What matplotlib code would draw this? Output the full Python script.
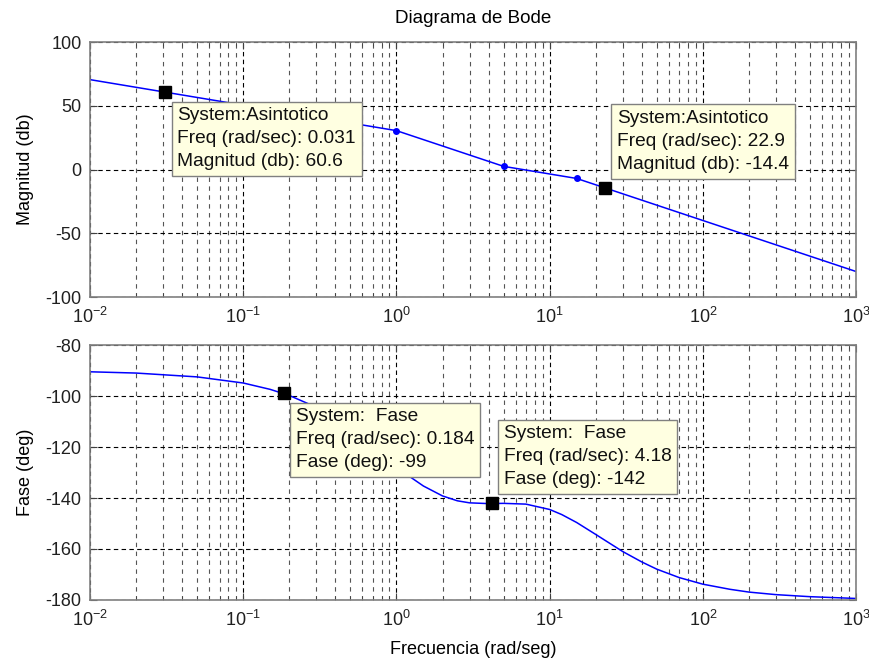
import numpy as np
import matplotlib
matplotlib.use("Agg")
from matplotlib import pyplot as plt
from matplotlib.ticker import LogLocator, NullFormatter

plt.rcParams['font.family'] = ['Liberation Sans', 'DejaVu Sans']
plt.rcParams['mathtext.fontset'] = 'custom'
plt.rcParams['mathtext.rm'] = 'Liberation Sans'
plt.rcParams['mathtext.default'] = 'regular'

# Magnitud asintotica (puntos de quiebre)
freq_mag = [0.01, 1, 5, 15, 1000]
mag_db = [70.5, 30.5, 2.5, -7.0, -80.0]
quiebres = [1, 5, 15]
mag_quiebres = [30.5, 2.5, -7.0]

# Fase
freq_fase = [0.01, 0.02, 0.05, 0.1, 0.15, 0.2, 0.3, 0.4, 0.5, 0.7, 1, 1.2, 1.5,
             2, 2.5, 3, 4, 5, 7, 10, 12, 15, 20, 30, 40, 50, 70, 100, 150, 200,
             300, 500, 1000]
fase_deg = [-90.5, -91.0, -92.5, -94.9, -97.4, -99.8, -104.4, -108.8, -112.8,
            -119.7, -127.5, -131.3, -135.3, -139.2, -141.1, -141.9, -142.2,
            -142.1, -142.4, -144.5, -146.5, -149.6, -154.3, -161.0, -165.1,
            -167.9, -171.2, -173.8, -175.8, -176.9, -177.9, -178.7, -179.4]

# Data tips
tips_mag = [(0.031, 60.6, 'down'), (22.9, -14.4, 'up')]
tips_fase = [(0.184, -99, 'down'), (4.18, -142, 'up')]

xticks = [1e-2, 1e-1, 1e0, 1e1, 1e2, 1e3]
xticklabels = ['10$^{-2}$', '10$^{-1}$', '10$^{0}$', '10$^{1}$', '10$^{2}$', '10$^{3}$']

fig = plt.figure(figsize=(8.69, 6.64), dpi=100)
ax1 = fig.add_axes([0.1036, 0.5527, 0.8815, 0.384])
ax2 = fig.add_axes([0.1036, 0.0964, 0.8815, 0.384])

FS = 13


def estilo(ax, ylim, yticks):
    ax.set_xscale('log')
    ax.set_xlim(1e-2, 1e3)
    ax.set_ylim(*ylim)
    ax.set_xticks(xticks)
    ax.set_xticklabels(xticklabels, fontsize=FS)
    ax.xaxis.set_minor_locator(LogLocator(base=10, subs=np.arange(2, 10), numticks=20))
    ax.xaxis.set_minor_formatter(NullFormatter())
    ax.set_yticks(yticks)
    ax.set_yticklabels([str(v) for v in yticks], fontsize=FS)
    ax.tick_params(which='both', direction='in', top=True, right=True, color='#404040',
                   labelcolor='#202020')
    ax.tick_params(which='major', length=5)
    ax.tick_params(axis='x', which='major', pad=7)
    ax.tick_params(axis='y', which='major', pad=6)
    ax.tick_params(which='minor', length=3)
    ax.grid(True, which='major', axis='both', color='black', linestyle=(0, (4, 3)), linewidth=0.8)
    ax.grid(True, which='minor', axis='x', color='#555555', linestyle=(0, (4, 4)), linewidth=0.8)
    for s in ax.spines.values():
        s.set_color('#808080')
        s.set_linewidth(1.2)
    ax.set_axisbelow(True)


estilo(ax1, (-100, 100), [-100, -50, 0, 50, 100])
estilo(ax2, (-180, -80), [-180, -160, -140, -120, -100, -80])

ax1.plot(freq_mag, mag_db, color='#0000ff', linewidth=1.1)
ax1.plot(quiebres, mag_quiebres, 'o', color='#0000ff', markersize=4, zorder=4)
ax2.plot(freq_fase, fase_deg, color='#0000ff', linewidth=1.1)

caja = dict(boxstyle='square,pad=0.3', facecolor='#ffffe1', edgecolor='#808080', linewidth=1)


def data_tip(ax, x, y, lineas, lado):
    ax.plot([x], [y], 's', color='black', markersize=8.5, zorder=5)
    if lado == 'down':
        off, va = (12, -15), 'top'
    else:
        off, va = (12, 15), 'bottom'
    ax.annotate('\n'.join(lineas), xy=(x, y), xytext=off, textcoords='offset pixels',
                ha='left', va=va, fontsize=13.8, linespacing=1.45, bbox=caja, zorder=6,
                color='#101010')


for f, m, lado in tips_mag:
    data_tip(ax1, f, m, ['System:Asintotico', 'Freq (rad/sec): %g' % f,
                         'Magnitud (db): %g' % m], lado)
for f, p, lado in tips_fase:
    data_tip(ax2, f, p, ['System:  Fase', 'Freq (rad/sec): %g' % f,
                         'Fase (deg): %g' % p], lado)

ax1.set_title('Diagrama de Bode', fontsize=13.5, pad=14)
ax1.set_ylabel('Magnitud (db)', fontsize=FS, labelpad=8)
ax2.set_ylabel('Fase (deg)', fontsize=FS, labelpad=8)
ax2.set_xlabel('Frecuencia (rad/seg)', fontsize=FS, labelpad=8)

fig.savefig('out.png', dpi=100, facecolor='white')
